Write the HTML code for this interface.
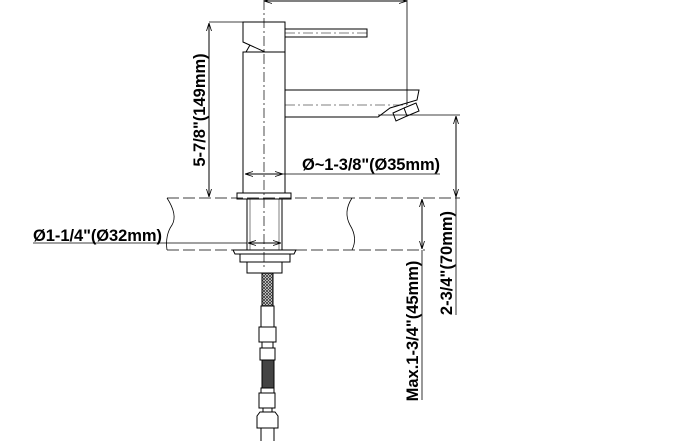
<!DOCTYPE html><html><head><style>body{margin:0;background:#fff}svg{display:block}</style></head><body>
<svg width="700" height="441" viewBox="0 0 700 441" xmlns="http://www.w3.org/2000/svg" font-family="Liberation Sans, sans-serif" font-weight="bold">
<defs><marker id="a" markerWidth="8" markerHeight="6" refX="8" refY="3" orient="auto-start-reverse"><path d="M0,0.5 L8,3 L0,5.5" fill="none" stroke="#000" stroke-width="0.8"/></marker>
<pattern id="br" width="3" height="3" patternUnits="userSpaceOnUse"><rect width="3" height="3" fill="#fff"/><path d="M0,0L3,3M3,0L0,3" stroke="#333" stroke-width="0.8"/></pattern></defs>
<g stroke="#000" stroke-width="1" fill="none">
<line x1="264" y1="1" x2="407" y2="1" marker-start="url(#a)" marker-end="url(#a)"/>
<line x1="407" y1="0" x2="407" y2="105" stroke-width="0.8"/>
<line x1="264" y1="0" x2="264" y2="270" stroke-dasharray="10,3,2,3" stroke-width="0.7"/>
<path d="M243,22 H285 V52 H265 L243,42 Z"/>
<line x1="246" y1="52" x2="250" y2="45"/>
<rect x="285" y="29" width="82" height="8"/>
<line x1="285" y1="33" x2="367" y2="33" stroke-dasharray="10,3,2,3" stroke-width="0.6"/>
<rect x="243" y="52" width="42" height="141"/>
<rect x="237" y="193" width="54" height="6"/>
<path d="M285,90 H419 L417,100 L390,108 L378,117 H285"/>
<line x1="285" y1="105" x2="407" y2="105" stroke-dasharray="10,3,2,3" stroke-width="0.6"/>
<path d="M393,113 L404,108 L407,116 L396,121 Z"/>
<path d="M404,108 L416,103 L419,111 L407,116"/>
<line x1="209" y1="22" x2="243" y2="22" stroke-width="0.8"/>
<line x1="209" y1="23" x2="209" y2="197" marker-start="url(#a)" marker-end="url(#a)"/>
<line x1="245" y1="174" x2="283" y2="174" marker-start="url(#a)" marker-end="url(#a)"/>
<line x1="283" y1="174" x2="440" y2="174" stroke-width="0.8"/>
<line x1="378" y1="115" x2="460" y2="115" stroke-width="0.8"/>
<line x1="456" y1="116" x2="456" y2="197" marker-start="url(#a)" marker-end="url(#a)"/>
<line x1="456" y1="197" x2="456" y2="315" stroke-width="0.8"/>
<line x1="167" y1="198" x2="460" y2="198" stroke-dasharray="12,4" stroke-width="0.8"/>
<line x1="167" y1="250" x2="425" y2="250" stroke-dasharray="12,4" stroke-width="0.8"/>
<path d="M167,198 Q178,215 172,225 Q165,235 167,250" stroke-width="0.8"/>
<path d="M352,198 Q343,212 350,225 Q358,238 352,250" stroke-width="0.8"/>
<line x1="247" y1="199" x2="247" y2="250"/><line x1="282" y1="199" x2="282" y2="250"/>
<line x1="250" y1="199" x2="250" y2="250" stroke-width="0.5"/><line x1="279" y1="199" x2="279" y2="250" stroke-width="0.5"/>
<line x1="33" y1="243" x2="247" y2="243" stroke-width="0.8"/>
<line x1="248" y1="243" x2="281" y2="243" marker-start="url(#a)" marker-end="url(#a)"/>
<path d="M233,250 H296 L294,254 H235 Z"/>
<rect x="240" y="254" width="50" height="8"/>
<rect x="247" y="262" width="35" height="11"/>
<rect x="262" y="273" width="11" height="33" fill="url(#br)"/>
<rect x="261" y="306" width="13" height="21"/>
<rect x="259" y="327" width="17" height="15"/>
<rect x="262" y="342" width="11" height="6"/>
<rect x="260" y="348" width="15" height="12"/>
<rect x="262" y="360" width="12" height="28" fill="#444"/>
<rect x="261" y="388" width="13" height="5"/>
<rect x="259" y="393" width="16" height="15"/>
<rect x="263" y="408" width="9" height="4"/>
<path d="M257,428 V416 L260,412 H275 L278,416 V428 Z"/>
<line x1="261" y1="428" x2="261" y2="441"/><line x1="274" y1="428" x2="274" y2="441"/>
<line x1="422" y1="199" x2="422" y2="249" marker-start="url(#a)" marker-end="url(#a)"/>
<line x1="422" y1="250" x2="422" y2="400" stroke-width="0.8"/>
</g>
<g font-size="16.5" fill="#000">
<text x="302" y="170" textLength="138">Ø~1-3/8"(Ø35mm)</text>
<text x="33" y="241" textLength="129">Ø1-1/4"(Ø32mm)</text>
<text transform="translate(205,110) rotate(-90)" text-anchor="middle">5-7/8"(149mm)</text>
<text transform="translate(452,263) rotate(-90)" text-anchor="middle">2-3/4"(70mm)</text>
<text transform="translate(418,331) rotate(-90)" text-anchor="middle">Max.1-3/4"(45mm)</text>
</g>
</svg></body></html>
